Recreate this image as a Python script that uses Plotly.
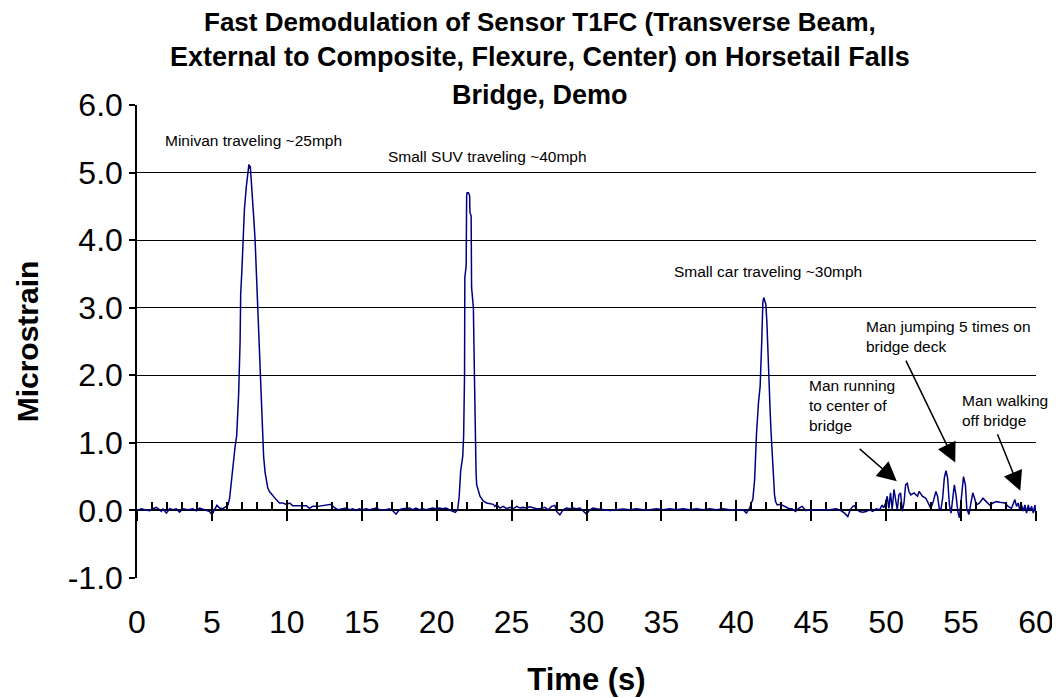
import plotly.graph_objects as go

# ---- data ----
time_s = [
    0.0, 0.29, 0.51, 0.84, 1.07, 1.29, 1.51, 1.62, 1.73, 1.96, 2.18, 2.4, 2.62, 2.84, 3.07, 3.4, 3.73, 3.96,
    4.18, 4.51, 4.84, 5.0, 5.18, 5.33, 5.51, 5.73, 5.96, 6.07, 6.18,
    6.3, 6.42, 6.55, 6.65, 6.78, 6.88, 6.92, 7.0, 7.05, 7.17, 7.3, 7.42, 7.47, 7.52, 7.56, 7.62, 7.7, 7.8,
    7.88, 7.95, 8.03, 8.14, 8.25, 8.36, 8.45, 8.55, 8.73, 8.84, 9.07, 9.29, 9.51, 9.73, 9.96, 10.18, 10.4,
    10.8, 11.07, 11.3, 11.51, 11.73, 12.07, 12.4, 12.96, 13.18, 13.4,
    13.73, 13.96, 14.18, 14.4, 14.62, 14.84, 15.07, 15.29, 15.51, 15.73, 15.96, 16.18, 16.62, 16.84, 17.07,
    17.29, 17.51, 17.73, 18.18, 18.4, 18.62, 18.84, 19.07, 19.29, 19.73, 19.96, 20.18, 20.4, 20.62, 20.84,
    21.07, 21.24, 21.4,
    21.5, 21.6, 21.74, 21.8, 21.86, 21.88, 21.97, 22.0, 22.03, 22.12, 22.2, 22.22, 22.3, 22.33, 22.45, 22.52,
    22.56, 22.63, 22.67, 22.78, 22.89, 23.11, 23.33, 23.78, 23.89, 24.0, 24.22,
    24.44, 24.67, 24.89, 25.11, 25.33, 25.56, 25.78, 26.0, 26.22, 26.44, 26.67, 26.89, 27.22, 27.44, 27.67,
    27.89, 28.0, 28.22, 28.44, 28.67, 28.89, 29.11, 29.33, 29.56, 29.78, 30.0, 30.22, 30.44, 30.67, 31.11,
    31.56, 32.0, 32.44, 32.89, 33.33, 33.78, 34.22, 34.67, 35.11, 35.56, 36.0, 36.44, 36.89, 37.33, 37.78,
    38.22, 38.67, 39.11, 39.56, 40.0, 40.44, 40.67, 40.89, 41.0, 41.1,
    41.22, 41.3, 41.35, 41.48, 41.59, 41.7, 41.77, 41.83, 41.88, 41.97, 42.04, 42.14, 42.26, 42.32, 42.41,
    42.5, 42.55, 42.62, 42.73, 42.95, 43.28, 43.5, 43.72, 43.95, 44.18, 44.4, 44.62, 45.0, 45.33, 45.78,
    46.22, 46.67, 47.0, 47.22, 47.44, 47.6, 47.78, 47.89, 48.0, 48.22, 48.44, 48.67, 48.89, 49.11, 49.33,
    49.56, 49.62, 49.73, 49.84, 49.96, 50.07, 50.18, 50.29, 50.4, 50.52, 50.63, 50.74, 50.85, 50.96, 51.08,
    51.19, 51.3, 51.41, 51.52, 51.64, 51.86, 52.09, 52.2, 52.42, 52.65, 52.87, 52.98, 53.14, 53.32, 53.43,
    53.54, 53.65, 53.77, 53.88, 53.99, 54.1, 54.22, 54.33, 54.44, 54.55, 54.66, 54.78, 54.89, 55.0, 55.16,
    55.29, 55.38, 55.52, 55.67, 55.78, 55.9, 56.01, 56.23, 56.46, 56.68, 56.91, 57.13, 57.35, 57.58, 57.91,
    58.14, 58.36, 58.59, 58.7, 58.81, 58.92, 59.04, 59.15, 59.26, 59.37, 59.48, 59.6, 59.71, 59.82, 59.93,
    60.0,
]
strain = [
    0.0, 0.025, 0.01, -0.005, 0.025, 0.045, 0.01, -0.015, 0.02, -0.04, 0.025, 0.01, 0.025, -0.025, 0.025,
    0.01, 0.025, -0.005, 0.035, 0.01, -0.015, -0.065, 0.01, 0.075, 0.035, 0.025, 0.06, 0.08, 0.18,
    0.45, 0.75, 0.95, 1.1, 1.7, 2.5, 3.2, 3.55, 3.92, 4.46, 4.8, 5.05, 5.12, 5.06, 5.1, 4.9, 4.56, 4.3,
    4.01, 3.6, 3.23, 2.53, 1.8, 1.1, 0.8, 0.56, 0.33, 0.28, 0.21, 0.16, 0.11, 0.11, 0.09, 0.11, 0.07,
    0.07, 0.07, 0.07, 0.03, 0.06, 0.06, 0.07, 0.09, 0.04, 0.01,
    0.025, 0.035, 0.01, 0.025, 0.0, 0.025, 0.01, 0.025, 0.01, 0.025, 0.035, 0.01, 0.01, 0.025, -0.005,
    -0.055, 0.01, 0.025, 0.035, 0.01, 0.035, 0.01, 0.025, 0.01, 0.035, 0.025, 0.035, 0.025, 0.035, 0.01,
    -0.015, -0.03, 0.01,
    0.2, 0.58, 0.8, 1.1, 2.0, 3.45, 3.62, 4.65, 4.7, 4.7, 4.66, 4.41, 4.36, 3.3, 3.0, 2.0,
    1.05, 0.56, 0.38, 0.28, 0.21, 0.14, 0.11, 0.09, 0.06, 0.085, 0.035,
    0.06, 0.025, 0.045, 0.025, 0.06, 0.035, 0.045, 0.035, 0.055, 0.035, 0.025, 0.025, 0.045, 0.01, 0.06,
    0.075, -0.015, -0.065, 0.01, 0.035, 0.025, 0.035, 0.025, 0.035, -0.015, -0.055, 0.01, 0.035, 0.025, 0.01,
    0.0, 0.01, 0.02, 0.01, 0.025, 0.01, 0.01, 0.025, 0.01, 0.025, 0.01, 0.025, 0.01, 0.025, 0.01,
    0.025, 0.01, 0.025, 0.01, 0.01, 0.01, -0.04, 0.035, 0.11, 0.16,
    0.45, 1.0, 1.15, 1.6, 1.84, 2.53, 3.08, 3.15, 3.12, 3.05, 2.78, 2.04, 1.45, 1.15, 0.71,
    0.38, 0.23, 0.13, 0.08, 0.09, 0.06, 0.03, 0.025, -0.015, 0.035, 0.06, 0.0, 0.01, 0.01, 0.01,
    0.01, 0.025, -0.005, -0.04, -0.09, 0.01, 0.06, 0.07, 0.025, -0.015, -0.025, -0.015, 0.01, -0.015, 0.025,
    0.01, 0.03, 0.08, 0.04, 0.11, 0.21, 0.03, 0.26, 0.01, 0.31, 0.13, 0.01, 0.23, 0.26, -0.01,
    0.11, 0.38, 0.4, 0.28, 0.23, 0.26, 0.21, 0.28, 0.21, 0.18, 0.08, 0.03, 0.13, 0.28, 0.21,
    0.03, 0.01, 0.18, 0.48, 0.59, 0.48, 0.08, -0.04, 0.18, 0.38, 0.23, -0.01, -0.11, 0.18, 0.5,
    0.38, 0.03, -0.06, 0.13, 0.26, 0.18, 0.08, 0.11, 0.18, 0.13, 0.08, 0.11, 0.13, 0.12, 0.11,
    0.06, 0.03, 0.16, 0.06, 0.11, 0.01, 0.08, -0.01, 0.08, -0.04, 0.08, -0.01, 0.06, -0.04, 0.08,
    -0.06,
]

y_ticks = [-1, 0, 1, 2, 3, 4, 5, 6]
y_tick_text = ["-1.0", "0.0", "1.0", "2.0", "3.0", "4.0", "5.0", "6.0"]
grid_values = [1, 2, 3, 4, 5, 6]

title_lines = [
    "Fast Demodulation of Sensor T1FC (Transverse Beam,",
    "External to Composite, Flexure, Center) on Horsetail Falls",
    "Bridge, Demo",
]

# event notes: (text, x, y)
notes = [
    ("Minivan traveling ~25mph", 1.74, 5.48),
    ("Small SUV traveling ~40mph", 16.62, 5.24),
    ("Small car traveling ~30mph", 35.71, 3.54),
    ("Man running<br>to center of<br>bridge", 44.7, 1.55),
    ("Man jumping 5 times on<br>bridge deck", 48.5, 2.58),
    ("Man walking<br>off bridge", 54.9, 1.48),
]
# arrows: (tip x, tip y, tail x, tail y)
arrows = [
    (50.71, 0.43, 48.13, 0.93),
    (54.61, 0.71, 51.27, 2.24),
    (58.95, 0.29, 57.39, 1.15),
]

FONT = "Arial, 'Liberation Sans', sans-serif"

fig = go.Figure()
fig.add_trace(go.Scatter(x=time_s, y=strain, mode="lines",
                         line=dict(color="#000080", width=1.5),
                         showlegend=False, hoverinfo="skip"))
# empty traces to activate overlay axes
fig.add_trace(go.Scatter(x=[], y=[], xaxis="x2", yaxis="y", showlegend=False))
fig.add_trace(go.Scatter(x=[], y=[], xaxis="x3", yaxis="y", showlegend=False))
fig.add_trace(go.Scatter(x=[], y=[], xaxis="x", yaxis="y2", showlegend=False))

pos0 = (0 - (-1)) / (6 - (-1))

fig.update_layout(
    width=1052, height=690,
    margin=dict(l=129, r=24, t=97, b=120),
    paper_bgcolor="white", plot_bgcolor="white",
    font=dict(family=FONT, color="black"),
    xaxis=dict(range=[0, 60], dtick=5, tick0=0, showgrid=False, zeroline=False,
               showline=False, ticks="", ticklabelstandoff=22, automargin=False,
               tickfont=dict(size=32, family=FONT),
               title=dict(text="<b>Time (s)</b>", font=dict(size=31, family=FONT), standoff=29)),
    xaxis2=dict(overlaying="x", anchor="free", position=pos0, range=[0, 60], automargin=False,
                showgrid=False, zeroline=False, showline=False, showticklabels=False,
                ticks="inside", ticklen=10, tickwidth=1.5, tickcolor="black", dtick=5, tick0=0,
                minor=dict(ticks="inside", ticklen=8, tickwidth=1.5, tickcolor="black", dtick=1, tick0=0)),
    xaxis3=dict(overlaying="x", anchor="free", position=pos0, range=[0, 60], automargin=False,
                showgrid=False, zeroline=False, showline=False, showticklabels=False,
                ticks="outside", ticklen=10, tickwidth=1.5, tickcolor="black", dtick=5, tick0=0),
    yaxis=dict(range=[-1, 6], tickvals=y_ticks, ticktext=y_tick_text, showgrid=False,
               zeroline=True, zerolinecolor="black", zerolinewidth=2, automargin=False,
               showline=True, linecolor="black", linewidth=1.5,
               ticks="outside", ticklen=6, tickwidth=1.5, tickcolor="black",
               tickfont=dict(size=32, family=FONT),
               title=dict(text="<b>Microstrain</b>", font=dict(size=30, family=FONT), standoff=20)),
    yaxis2=dict(overlaying="y", range=[-1, 6], tickvals=grid_values, showgrid=True, automargin=False,
                gridcolor="black", gridwidth=1.3, showticklabels=False, ticks="",
                zeroline=False, showline=False),
)

title_y = [1.175, 1.1015, 1.0211]
title_size = [26, 27, 27]
for line, ty, ts in zip(title_lines, title_y, title_size):
    fig.add_annotation(text="<b>" + line + "</b>", xref="paper", yref="paper",
                       x=0.448, y=ty, xanchor="center", yanchor="middle", showarrow=False,
                       font=dict(size=ts, family=FONT, color="black"))

for text, nx, ny in notes:
    fig.add_annotation(text=text, x=nx, y=ny, xref="x", yref="y", xanchor="left",
                       yanchor="middle", align="left", showarrow=False,
                       font=dict(size=15.5, family=FONT, color="black"))

for tx, ty, ax_, ay_ in arrows:
    fig.add_annotation(x=tx, y=ty, ax=ax_, ay=ay_, xref="x", yref="y", axref="x", ayref="y",
                       text="", showarrow=True, arrowhead=2, arrowsize=2.6, arrowwidth=1.5,
                       arrowcolor="black")

fig.write_html("out.html")
